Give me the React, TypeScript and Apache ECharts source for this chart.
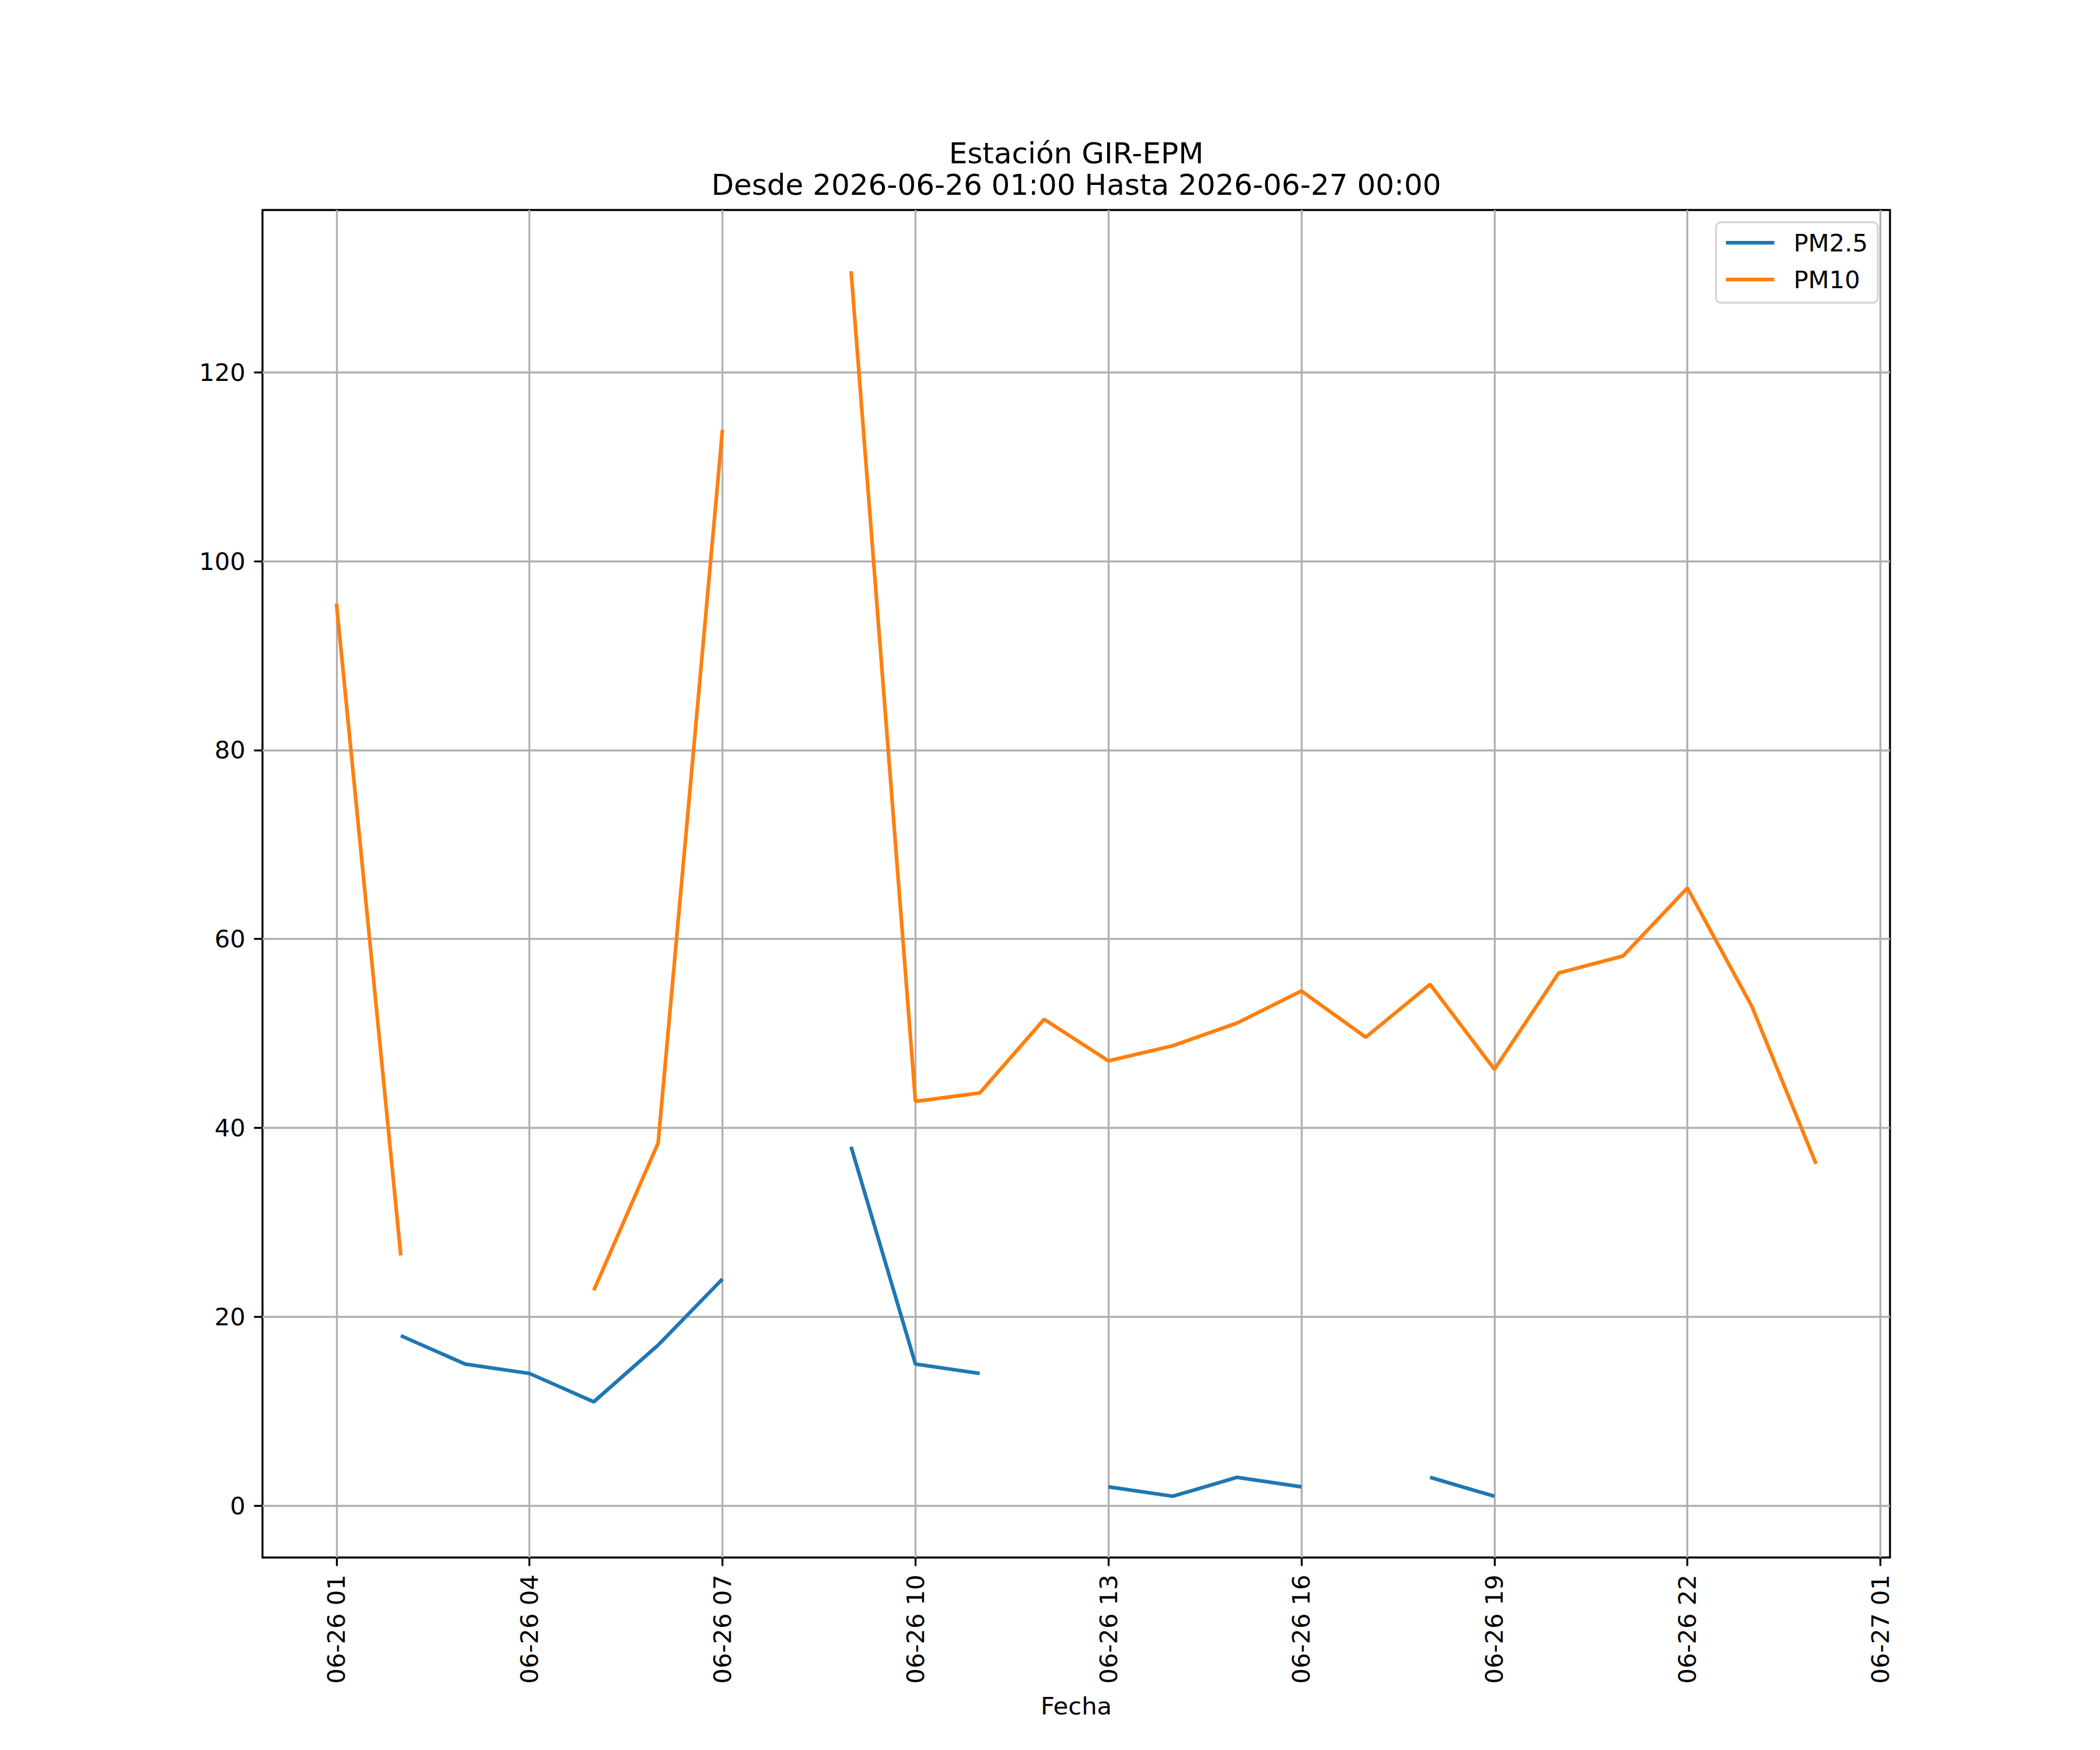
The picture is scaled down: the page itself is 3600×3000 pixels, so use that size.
import { useEffect, useRef } from "react"
import * as echarts from "echarts"

// hora del día (1 = 06-26 01:00, 24 = 06-27 00:00)
const hours = [1, 2, 3, 4, 5, 6, 7, 8, 9, 10, 11, 12, 13, 14, 15, 16, 17, 18, 19, 20, 21, 22, 23, 24]
const pm25 = [null, 18, 15, 14, 11, 17, 24, null, 38, 15, 14, null, 2, 1, 3, 2, null, 3, 1, null, null, null, null, null]
const pm10 = [95.5, 26.5, null, null, 22.8, 38.4, 113.9, null, 130.7, 42.8, 43.7, 51.5, 47.1, 48.7, 51.1, 54.5, 49.6, 55.2, 46.2, 56.4, 58.2, 65.4, 52.9, 36.2]

const xTickHours = [1, 4, 7, 10, 13, 16, 19, 22, 25]
const xTickLabels = ["06-26 01", "06-26 04", "06-26 07", "06-26 10", "06-26 13", "06-26 16", "06-26 19", "06-26 22", "06-27 01"]
const yTicks = [0, 20, 40, 60, 80, 100, 120]

const seriesNames = ["PM2.5", "PM10"]
const colors = ["#1f77b4", "#ff7f0e"]
const titleLines = ["Estación GIR-EPM", "Desde 2026-06-26 01:00 Hasta 2026-06-27 00:00"]

const FONT = "DejaVu Sans"
const PT = 300 / 72

export default function App() {
  const chartRef = useRef<HTMLDivElement>(null)

  useEffect(() => {
    if (!chartRef.current) return
    const chart = echarts.init(chartRef.current, null, { renderer: "svg" })

    // márgenes de 5% como matplotlib
    const xPad = (hours[hours.length - 1] - hours[0]) * 0.05
    const all = [...pm25, ...pm10].filter((v) => v !== null) as number[]
    const yLo = Math.min(...all)
    const yHi = Math.max(...all)
    const yPad = (yHi - yLo) * 0.05

    const fontSize = 10 * PT
    const thin = 0.8 * PT
    const tickLen = 3.5 * PT

    const option = {
      animation: false,
      backgroundColor: "#fff",
      textStyle: { fontFamily: FONT },
      grid: {
        left: 450,
        right: 360,
        top: 360,
        bottom: 330,
        show: true,
        borderColor: "#000",
        borderWidth: thin,
        backgroundColor: "transparent",
      },
      graphic: titleLines.map((t, i) => ({
        type: "text",
        x: 1845,
        y: 263 + i * 54,
        style: {
          text: t,
          fontSize: 12 * PT,
          fontFamily: FONT,
          fill: "#000",
          align: "center",
          verticalAlign: "middle",
        },
      })),
      legend: {
        data: seriesNames,
        orient: "vertical",
        right: 381,
        top: 381,
        icon: "rect",
        itemWidth: 83,
        itemHeight: 1.5 * PT,
        itemGap: 21,
        padding: [14, 17, 19, 17],
        backgroundColor: "#fff",
        borderColor: "#d6d6d6",
        borderWidth: thin,
        borderRadius: 8,
        textStyle: {
          fontSize,
          fontFamily: FONT,
          color: "#000",
          lineHeight: 42,
          padding: [0, 0, 0, 28],
        },
      },
      xAxis: {
        type: "value",
        min: hours[0] - xPad,
        max: hours[hours.length - 1] + xPad,
        name: "Fecha",
        nameLocation: "middle",
        nameGap: 233,
        nameTextStyle: { fontSize, fontFamily: FONT, color: "#000", verticalAlign: "top" },
        axisLine: { show: false, onZero: false },
        axisTick: {
          show: true,
          customValues: xTickHours,
          length: tickLen,
          lineStyle: { color: "#000", width: thin },
        },
        axisLabel: {
          customValues: xTickHours,
          rotate: 90,
          margin: 2 * tickLen,
          fontSize,
          fontFamily: FONT,
          color: "#000",
          formatter: (v: number) => xTickLabels[xTickHours.indexOf(v)] ?? "",
        },
        splitLine: { show: true, lineStyle: { color: "#b0b0b0", width: thin } },
      },
      yAxis: {
        type: "value",
        min: yLo - yPad,
        max: yHi + yPad,
        axisLine: { show: false, onZero: false },
        axisTick: {
          show: true,
          customValues: yTicks,
          length: tickLen,
          lineStyle: { color: "#000", width: thin },
        },
        axisLabel: {
          customValues: yTicks,
          margin: 2 * tickLen,
          fontSize,
          fontFamily: FONT,
          color: "#000",
        },
        splitLine: { show: true, lineStyle: { color: "#b0b0b0", width: thin } },
      },
      series: [pm25, pm10].map((vals, i) => ({
        name: seriesNames[i],
        type: "line",
        showSymbol: false,
        connectNulls: false,
        color: colors[i],
        lineStyle: { color: colors[i], width: 1.5 * PT },
        data: hours.map((h, j) => [h, vals[j] === null ? "-" : vals[j]]),
      })),
    }

    chart.setOption(option)

    return () => {
      chart.dispose()
    }
  }, [])

  return (
    <div
      ref={chartRef}
      style={{ position: "absolute", left: 0, top: 0, width: 3600, height: 3000 }}
    />
  )
}
